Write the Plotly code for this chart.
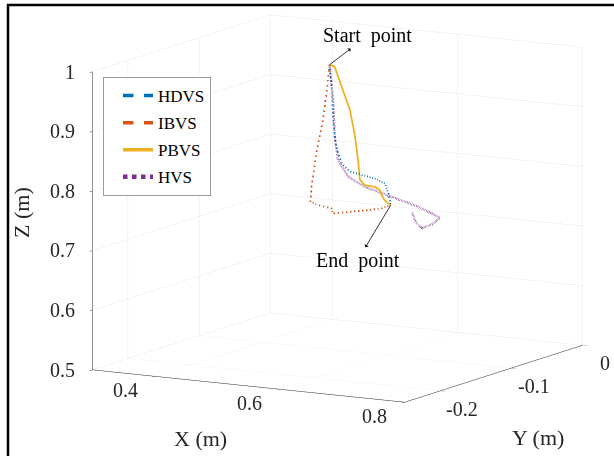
import plotly.graph_objects as go

# ---- data (metres) ----
hdvs_x = [0.560, 0.569, 0.577, 0.588, 0.602, 0.621, 0.645, 0.675, 0.700, 0.714, 0.721, 0.726]
hdvs_y = [-0.145, -0.150, -0.155, -0.160, -0.165, -0.170, -0.175, -0.1825, -0.190, -0.1975, -0.201, -0.205]
hdvs_z = [1.000, 0.966, 0.913, 0.871, 0.847, 0.837, 0.836, 0.836, 0.833, 0.821, 0.809, 0.805]

ibvs_x = [0.560, 0.562, 0.561, 0.556, 0.554, 0.558, 0.573, 0.603, 0.611, 0.646, 0.679, 0.706, 0.726]
ibvs_y = [-0.145, -0.150, -0.155, -0.160, -0.165, -0.170, -0.175, -0.180, -0.185, -0.190, -0.195, -0.200, -0.205]
ibvs_z = [1.000, 0.965, 0.911, 0.857, 0.802, 0.780, 0.778, 0.777, 0.771, 0.780, 0.788, 0.796, 0.805]

pbvs_x = [0.560, 0.568, 0.585, 0.604, 0.618, 0.629, 0.637, 0.651, 0.675, 0.692, 0.700, 0.711, 0.726]
pbvs_y = [-0.145, -0.145, -0.150, -0.155, -0.160, -0.165, -0.170, -0.175, -0.1825, -0.190, -0.195, -0.200, -0.205]
pbvs_z = [1.000, 0.998, 0.968, 0.933, 0.891, 0.850, 0.825, 0.819, 0.822, 0.821, 0.816, 0.810, 0.805]

hvs_x = [0.560, 0.569, 0.574, 0.585, 0.610, 0.648, 0.681, 0.714, 0.732, 0.748, 0.764, 0.771, 0.758, 0.742, 0.735, 0.732]
hvs_y = [-0.145, -0.1475, -0.150, -0.155, -0.1625, -0.1725, -0.1825, -0.1925, -0.190, -0.185, -0.180, -0.175, -0.175, -0.175, -0.1775, -0.180]
hvs_z = [1.000, 0.938, 0.883, 0.846, 0.824, 0.815, 0.814, 0.813, 0.806, 0.797, 0.786, 0.777, 0.765, 0.757, 0.767, 0.785]

start_pt = (0.560, -0.145, 1.000)
end_pt = (0.726, -0.205, 0.805)

x_range = [0.3, 0.8]
y_range = [-0.25, 0]
z_range = [0.5, 1]
x_ticks = [0.4, 0.6, 0.8]
x_labels = ["0.4", "0.6", "0.8"]
y_ticks = [-0.2, -0.1, 0]
y_labels = ["-0.2", "-0.1", "0"]
z_ticks = [0.5, 0.6, 0.7, 0.8, 0.9, 1]
z_labels = ["0.5", "0.6", "0.7", "0.8", "0.9", "1"]

FONT = "Liberation Serif"
TXT = "#262626"

fig = go.Figure()
series = [
    ("HDVS", hdvs_x, hdvs_y, hdvs_z, "#0072BD", "dash", 3.5),
    ("IBVS", ibvs_x, ibvs_y, ibvs_z, "#D95319", "dash", 3.5),
    ("PBVS", pbvs_x, pbvs_y, pbvs_z, "#EDB120", "solid", 3.5),
    ("HVS", hvs_x, hvs_y, hvs_z, "#7E2F8E", "dot", 4.5),
]
for name, xs, ys, zs, col, dash, w in series:
    fig.add_trace(go.Scatter3d(
        x=xs, y=ys, z=zs, mode="lines", name=name, legendgroup=name,
        line=dict(color=col, width=w, dash=dash),
    ))

axis_common = dict(
    showbackground=False, gridcolor="#e8e8e8", gridwidth=1,
    showline=True, linecolor="#262626", linewidth=1,
    zeroline=False, showspikes=False, ticks="outside", ticklen=5,
    tickcolor="#262626", showticklabels=False,
    title=dict(text=""),
)

tick_font = dict(family=FONT, size=20, color=TXT)
scene_ann = []
# tick labels anchored to the axes' data positions
for v, t in zip(z_ticks, z_labels):
    scene_ann.append(dict(x=x_range[0], y=y_range[0], z=v, text=t, showarrow=False,
                          xanchor="right", yanchor="middle", xshift=-16, font=tick_font))
for v, t in zip(x_ticks, x_labels):
    scene_ann.append(dict(x=v, y=y_range[0], z=z_range[0], text=t, showarrow=False,
                          xanchor="center", yanchor="middle", xshift=-30, yshift=-14, font=tick_font))
for v, t in zip(y_ticks, y_labels):
    scene_ann.append(dict(x=x_range[1], y=v, z=z_range[0], text=t, showarrow=False,
                          xanchor="center", yanchor="middle", xshift=22, yshift=-18, font=tick_font))
scene_ann += [
    dict(x=start_pt[0], y=start_pt[1], z=start_pt[2], text="Start  point",
         showarrow=True, arrowside="start", arrowhead=2, arrowsize=1, arrowwidth=0.8,
         arrowcolor="black", ax=38, ay=-29, standoff=0, startstandoff=0,
         font=dict(family=FONT, size=20, color="black")),
    dict(x=end_pt[0], y=end_pt[1], z=end_pt[2], text="End  point",
         showarrow=True, arrowside="start", arrowhead=2, arrowsize=1, arrowwidth=0.8,
         arrowcolor="black", ax=-33, ay=55, standoff=0, startstandoff=0,
         font=dict(family=FONT, size=20, color="black")),
]

fig.update_layout(
    width=614, height=456,
    margin=dict(l=0, r=0, t=0, b=0),
    paper_bgcolor="white",
    showlegend=True,
    legend=dict(
        x=103 / 614, y=1 - 77 / 456, xanchor="left", yanchor="top",
        bgcolor="white", bordercolor="#9a9a9a", borderwidth=1,
        font=dict(family=FONT, size=17, color="black"),
        itemwidth=30, tracegroupgap=2, indentation=14,
    ),
    scene=dict(
        domain=dict(x=[0.1, 1.0], y=[0.086, 1.0]),
        aspectmode="manual",
        aspectratio=dict(x=1.724, y=1.726, z=1.454),
        camera=dict(
            eye=dict(x=1.215, y=-2.135, z=0.455),
            up=dict(x=0, y=0, z=1),
            center=dict(x=0, y=0, z=0),
            projection=dict(type="orthographic"),
        ),
        xaxis=dict(range=x_range, tickvals=x_ticks, **axis_common),
        yaxis=dict(range=y_range, tickvals=y_ticks, **axis_common),
        zaxis=dict(range=z_range, tickvals=z_ticks, **axis_common),
        annotations=scene_ann,
    ),
    annotations=[
        dict(x=200 / 614, y=1 - 438 / 456, xref="paper", yref="paper", text="X (m)",
             xanchor="center", yanchor="middle",
             showarrow=False, font=dict(family=FONT, size=22, color=TXT)),
        dict(x=538 / 614, y=1 - 437 / 456, xref="paper", yref="paper", text="Y (m)",
             xanchor="center", yanchor="middle",
             showarrow=False, font=dict(family=FONT, size=22, color=TXT)),
        dict(x=22 / 614, y=1 - 213 / 456, xref="paper", yref="paper", text="Z (m)",
             xanchor="center", yanchor="middle",
             textangle=-90, showarrow=False, font=dict(family=FONT, size=22, color=TXT)),
    ],
    shapes=[
        dict(type="line", xref="paper", yref="paper", x0=7 / 614, x1=1, y0=1 - 5 / 456, y1=1 - 5 / 456,
             line=dict(color="black", width=2.5)),
        dict(type="line", xref="paper", yref="paper", x0=8 / 614, x1=8 / 614, y0=0, y1=1 - 4 / 456,
             line=dict(color="black", width=2.5)),
    ],
)

fig.write_html("out.html", config={"displayModeBar": False},
               post_script="document.body.style.margin='0';")
